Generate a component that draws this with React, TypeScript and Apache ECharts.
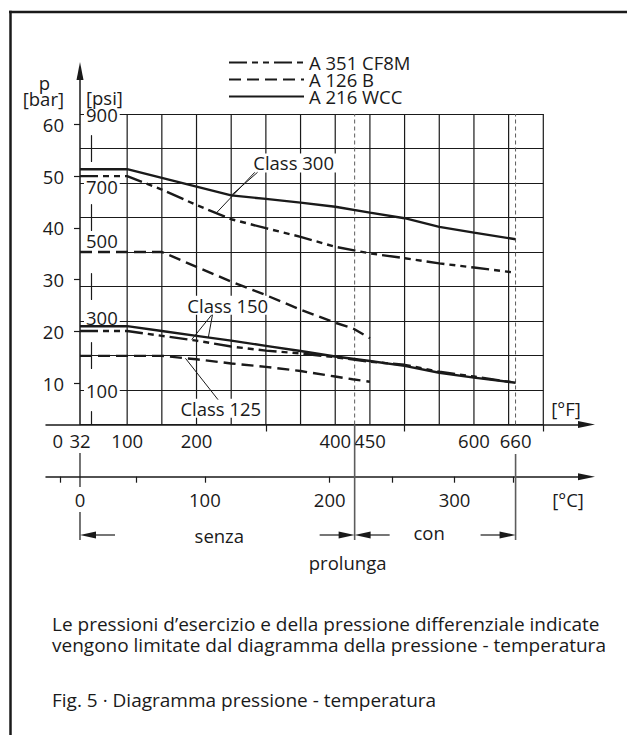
import React, { useEffect, useRef } from 'react';
import * as echarts from 'echarts';

const INK = '#1a1a1a';
const GREY = '#5c5c5c';
const FONT = '"Open Sans", "Noto Sans", "DejaVu Sans", sans-serif';
const FS = 18.5;

// Materials (legend)
const materials = ['A 351 CF8M', 'A 126 B', 'A 216 WCC'];

// Curves: temperature in °F, pressure in psi
const wcc300F = [32, 100, 250, 300, 350, 400, 450, 500, 550, 600, 660];
const wcc300P = [740, 740, 664, 654, 643, 631, 614, 598, 573, 556, 537];
const cf8m300F = [32, 100, 150, 200, 250, 300, 350, 400, 450, 500, 550, 600, 660];
const cf8m300P = [720, 720, 681, 636, 595, 569, 544, 515, 496, 482, 467, 455, 440];
const a126b250F = [32, 150, 200, 250, 300, 350, 400, 425, 450];
const a126b250P = [500, 500, 457, 414, 375, 333, 295, 279, 250];
const wcc150F = [32, 100, 150, 200, 250, 300, 350, 400, 450, 500, 550, 600, 660];
const wcc150P = [285, 285, 271, 257, 243, 228, 213, 197, 184, 170, 150, 136, 121];
const cf8m150F = [32, 100, 150, 200, 250, 300, 350, 400, 450, 500, 550, 600, 660];
const cf8m150P = [271, 271, 257, 243, 226, 214, 206, 195, 182, 173, 153, 139, 121];
const a126b125F = [32, 150, 200, 250, 300, 350, 400, 425, 450];
const a126b125P = [199, 199, 189, 177, 167, 155, 139, 131, 124];

// Grid / ticks
const gridF = [100, 150, 200, 250, 300, 350, 400, 450, 500, 550, 600, 650, 700];
const limitF = [428, 660];
const psiTicks = [100, 300, 500, 700, 900];
const barTicks = [10, 20, 30, 40, 50, 60];
const fLabels = [0, 32, 100, 200, 400, 450, 600, 660];
const fTicks = [300, 500, 700];
const cLabels = [0, 100, 200, 300];
const cTicks = [-16, 45, 100, 200, 250, 300, 347];

// Annotations (anchors in °F / psi)
const classNotes = [
  { text: 'Class 300', at: [340, 758], leaders: [[[288, 731], [250, 664]], [[284, 731], [228, 612]]] },
  { text: 'Class 150', at: [245, 346], leaders: [[[222, 318], [193, 246]], [[223, 318], [217, 252]]] },
  { text: 'Class 125', at: [235, 47], leaders: [[[231, 72], [184, 192]]] },
];
const caption1 = 'Le pressioni d\u2019esercizio e della pressione differenziale indicate';
const caption2 = 'vengono limitate dal diagramma della pressione - temperatura';
const figTitle = 'Fig. 5 \u00b7 Diagramma pressione - temperatura';

const dashFor: Record<string, any> = {
  'A 351 CF8M': [18, 5, 6, 5, 6, 5],
  'A 126 B': [12, 6],
  'A 216 WCC': 'solid',
};

const curves = [
  { name: 'A 216 WCC', F: wcc300F, P: wcc300P },
  { name: 'A 351 CF8M', F: cf8m300F, P: cf8m300P },
  { name: 'A 126 B', F: a126b250F, P: a126b250P },
  { name: 'A 216 WCC', F: wcc150F, P: wcc150P },
  { name: 'A 351 CF8M', F: cf8m150F, P: cf8m150P },
  { name: 'A 126 B', F: a126b125F, P: a126b125P },
];

export default function App() {
  const ref = useRef<HTMLDivElement>(null);
  useEffect(() => {
    const chart = echarts.init(ref.current!, null, { renderer: 'svg' });
    const txt = { fontFamily: FONT, fontSize: FS, color: INK };

    const grids = [
      { left: 80, top: 114, width: 463.3, height: 310.5 },
      { left: 80, top: 71, width: 1, height: 353.5 },
      { left: 46, top: 414.5, width: 540.5, height: 10 },
      { left: 46, top: 466.7, width: 540.5, height: 10 },
    ].map((g) => ({ ...g, containLabel: false, outerBoundsMode: 'none', show: false }));

    const series: any[] = [];
    gridF.forEach((f) =>
      series.push({
        type: 'line', name: 'grid' + f, xAxisIndex: 0, yAxisIndex: 0, z: 1, silent: true,
        symbol: 'none', data: [[f, 0], [f, 900]],
        lineStyle: { color: INK, width: 1.2 }, emphasis: { disabled: true },
      })
    );
    limitF.forEach((f) =>
      series.push({
        type: 'line', name: 'limit' + f, xAxisIndex: 0, yAxisIndex: 0, z: 1, silent: true,
        symbol: 'none', data: [[f, 0], [f, 900]],
        lineStyle: { color: GREY, width: 1, type: [4, 3] }, emphasis: { disabled: true },
      })
    );
    curves.forEach((c) =>
      series.push({
        type: 'line', name: c.name, xAxisIndex: 0, yAxisIndex: 0, z: 5, silent: true,
        symbol: 'none', data: c.F.map((f, i) => [f, c.P[i]]),
        itemStyle: { color: INK },
        lineStyle: { color: INK, width: 2.4, type: dashFor[c.name] },
        emphasis: { disabled: true },
      })
    );

    const psiRich = {
      n: { ...txt },
      dn: { ...txt, padding: [7, 0, 0, 0] },
      up: { ...txt, padding: [0, 0, 7, 0] },
      up2: { ...txt, padding: [0, 0, 23, 0] },
    };

    const option: any = {
      animation: false,
      backgroundColor: '#ffffff',
      textStyle: { fontFamily: FONT },
      grid: grids,
      legend: {
        data: materials, left: 228, top: 53, orient: 'vertical', padding: 0,
        itemWidth: 75, itemHeight: 1, itemGap: -2, selectedMode: false,
        textStyle: { ...txt },
      },
      xAxis: [
        { gridIndex: 0, type: 'value', min: 32, max: 700, show: false },
        { gridIndex: 1, type: 'value', min: 0, max: 1, show: false },
        {
          gridIndex: 2, type: 'value', min: -17.02, max: 762.25, position: 'bottom',
          axisLine: { show: true, onZero: false, symbol: ['none', 'triangle'], symbolSize: [7, 17], lineStyle: { color: INK, width: 1.5 } },
          axisTick: { show: true, customValues: fTicks, length: 7, lineStyle: { color: INK, width: 1.2 } },
          axisLabel: { show: true, customValues: fLabels, margin: 6, ...txt },
          splitLine: { show: false },
        },
        {
          gridIndex: 3, type: 'value', min: -27.23, max: 405.72, position: 'bottom',
          axisLine: { show: true, onZero: false, symbol: ['none', 'triangle'], symbolSize: [7, 17], lineStyle: { color: INK, width: 1.5 } },
          axisTick: { show: true, customValues: cTicks, length: 6, lineStyle: { color: INK, width: 1.2 } },
          axisLabel: { show: true, customValues: cLabels, margin: 13, ...txt },
          splitLine: { show: false },
        },
      ],
      yAxis: [
        {
          gridIndex: 0, type: 'value', min: 0, max: 900, interval: 100, z: 1,
          axisLine: { show: false }, axisTick: { show: false }, axisLabel: { show: false },
          splitLine: { show: true, lineStyle: { color: INK, width: 1.2 } },
        },
        {
          gridIndex: 0, type: 'value', min: 0, max: 900, position: 'left', offset: -4, z: 3,
          axisLine: { show: false }, axisTick: { show: false }, splitLine: { show: false },
          axisLabel: {
            show: true, inside: true, margin: 0, customValues: psiTicks,
            backgroundColor: '#ffffff', padding: [0, 2], ...txt,
            formatter: (v: number) =>
              v === 700 ? `{dn|${v}}` : v === 500 ? `{up2|${v}}` : v === 300 ? `{up|${v}}` : `{n|${v}}`,
            rich: psiRich,
          },
        },
        {
          gridIndex: 0, type: 'value', min: 0, max: 900, position: 'left', offset: -11, z: 2,
          axisLine: { show: true, onZero: false, lineStyle: { color: INK, width: 1.2, type: [26, 43], dashOffset: 13 } },
          axisTick: { show: false }, axisLabel: { show: false }, splitLine: { show: false },
        },
        {
          gridIndex: 1, type: 'value', min: 2, max: 70.31, position: 'left',
          axisLine: { show: true, onZero: false, symbol: ['none', 'triangle'], symbolSize: [7, 18], lineStyle: { color: INK, width: 1.5 } },
          axisTick: { show: true, customValues: barTicks, length: 6, lineStyle: { color: INK, width: 1.2 } },
          axisLabel: { show: true, customValues: barTicks, margin: 16, ...txt },
          splitLine: { show: false },
        },
        { gridIndex: 2, type: 'value', show: false },
        { gridIndex: 3, type: 'value', show: false },
      ],
      series,
    };
    chart.setOption(option);

    const toPx = (f: number, p: number) =>
      chart.convertToPixel({ xAxisIndex: 0, yAxisIndex: 0 } as any, [f, p]) as unknown as number[];
    const xF = (f: number) => chart.convertToPixel({ xAxisIndex: 2 } as any, f) as unknown as number;
    const xC = (c: number) => chart.convertToPixel({ xAxisIndex: 3 } as any, c) as unknown as number;

    const T = (text: string, x: number, y: number, align = 'center', extra: any = {}, z = 4) => ({
      type: 'text', x, y, z, silent: true,
      style: {
        text, fill: INK, fontSize: FS, fontFamily: FONT,
        textAlign: align, textVerticalAlign: 'middle', align, verticalAlign: 'middle', ...extra,
      },
    });
    const L = (x1: number, y1: number, x2: number, y2: number, stroke = INK, w = 1.2, z = 6) => ({
      type: 'line', z, silent: true, shape: { x1, y1, x2, y2 }, style: { stroke, lineWidth: w },
    });
    const H = (tipX: number, y: number, dir: number) => ({
      type: 'polygon', z: 6, silent: true,
      shape: { points: [[tipX, y], [tipX + dir * 16, y - 3.5], [tipX + dir * 16, y + 3.5]] },
      style: { fill: INK },
    });

    const g: any[] = [];
    // frame
    g.push(L(9, 12, 627, 12, INK, 2.5, 10));
    g.push(L(10.5, 10.8, 10.5, 735, INK, 2.5, 10));
    // axis titles
    g.push(T('p', 50, 82, 'right'));
    g.push(T('[bar]', 64, 98, 'right'));
    g.push(T('[psi]', 86, 97, 'left'));
    g.push(T('[°F]', 566, 408));
    g.push(T('[°C]', 568, 499));
    // class notes
    classNotes.forEach((n) => {
      const p = toPx(n.at[0], n.at[1]);
      g.push(T(n.text, p[0], p[1], 'center', { backgroundColor: '#ffffff', padding: [0, 2] }));
      n.leaders.forEach((ld) => {
        const a = toPx(ld[0][0], ld[0][1]);
        const b = toPx(ld[1][0], ld[1][1]);
        g.push(L(a[0], a[1], b[0], b[1], INK, 1));
      });
    });
    // bottom markers
    const x0 = xC(0);
    const x220 = xC(220);
    const x660 = xF(660);
    const ay = 535;
    g.push(L(x0, 453, x0, 487, INK, 1.2));
    g.push(L(x0, 512, x0, 540, INK, 1.2));
    g.push(L(x220, 424.5, x220, 540, GREY, 1.6));
    g.push(L(x660, 454, x660, 540, GREY, 1.6));
    g.push(L(x0 + 12, ay, x0 + 35, ay, INK, 1.2));
    g.push(H(x0, ay, 1));
    g.push(L(x220 - 35, ay, x220 - 12, ay, INK, 1.2));
    g.push(H(x220, ay, -1));
    g.push(L(x220 + 12, ay, x220 + 35, ay, INK, 1.2));
    g.push(H(x220, ay, 1));
    g.push(L(x660 - 35, ay, x660 - 12, ay, INK, 1.2));
    g.push(H(x660, ay, -1));
    g.push(T('senza', (x0 + x220) / 2 + 2, ay));
    g.push(T('con', (x220 + x660) / 2 - 6, 532.5));
    g.push(T('prolunga', x220 - 7, 562));
    // captions
    g.push(T(caption1, 52, 624, 'left', { fontSize: 19 }));
    g.push(T(caption2, 52, 645, 'left', { fontSize: 19 }));
    g.push(T(figTitle, 52, 700, 'left', { fontSize: 19 }));

    chart.setOption({ graphic: g });
    return () => chart.dispose();
  }, []);
  return <div ref={ref} style={{ position: 'absolute', left: 0, top: 0, width: 627, height: 735 }} />;
}
